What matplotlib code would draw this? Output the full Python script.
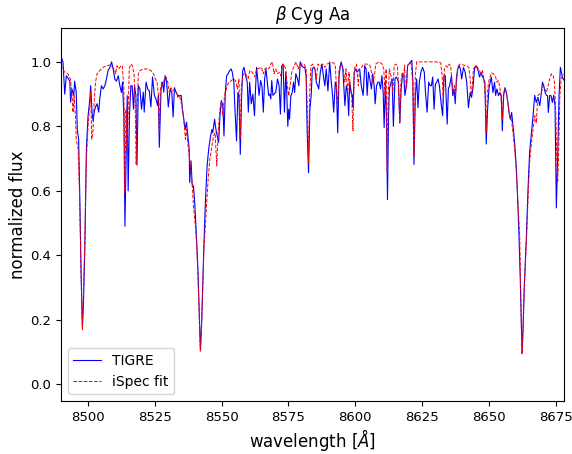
import numpy as np
import matplotlib
matplotlib.use("Agg")
import matplotlib.pyplot as plt

# TIGRE observed spectrum (wavelength in Angstrom, normalized flux)
wave_obs = [8489.5, 8490.1, 8490.75, 8491.4, 8492.0, 8492.6, 8493.3, 8493.6, 8494.1, 8494.8,
            8495.1, 8495.7, 8496.1, 8496.6, 8497.1, 8497.5, 8498.0, 8498.4, 8498.9, 8499.5,
            8500.1, 8500.8, 8501.1, 8501.6, 8502.0, 8502.4, 8502.9, 8503.5, 8504.1, 8504.5,
            8505.1, 8505.75, 8506.4, 8507.0, 8507.6, 8508.3, 8508.9, 8509.5, 8510.1, 8510.7,
            8511.4, 8512.0, 8512.6, 8513.0, 8513.5, 8513.9, 8514.4, 8514.75, 8515.1, 8515.6,
            8516.1, 8516.6, 8517.1, 8517.5, 8518.0, 8518.4, 8518.9, 8519.5, 8520.1, 8520.75,
            8521.1, 8521.8, 8522.4, 8523.0, 8523.6, 8524.2, 8524.9, 8525.5, 8526.1, 8526.4,
            8526.75, 8527.4, 8528.0, 8528.4, 8528.9, 8529.5, 8530.1, 8530.8, 8531.4, 8531.9,
            8532.4, 8533.0, 8533.6, 8534.25, 8534.9, 8535.5, 8535.9, 8536.4, 8536.9, 8537.4,
            8537.9, 8538.1, 8538.6, 8539.0, 8539.5, 8539.9, 8540.25, 8540.6, 8541.2, 8541.75,
            8542.1, 8542.6, 8543.0, 8543.4, 8544.0, 8544.6, 8545.2, 8545.9, 8546.4, 8546.7,
            8547.4, 8547.9, 8548.4, 8548.9, 8549.4, 8549.9, 8550.5, 8550.9, 8551.4, 8551.9,
            8552.4, 8553.0, 8553.6, 8554.0, 8554.6, 8555.0, 8555.6, 8556.1, 8556.5, 8557.0,
            8557.5, 8557.9, 8558.4, 8559.0, 8559.6, 8560.0, 8560.5, 8561.1, 8561.7, 8562.3,
            8562.75, 8563.1, 8563.6, 8564.0, 8564.6, 8565.1, 8565.6, 8566.1, 8566.6, 8567.1,
            8567.6, 8568.0, 8568.4, 8568.75, 8569.2, 8569.6, 8570.25, 8570.9, 8571.5, 8572.0,
            8572.5, 8573.0, 8573.5, 8574.0, 8574.4, 8574.75, 8575.1, 8575.4, 8575.9, 8576.4,
            8576.9, 8577.3, 8577.75, 8578.4, 8578.9, 8579.4, 8579.9, 8580.6, 8581.1, 8581.6,
            8582.0, 8582.5, 8583.0, 8583.5, 8583.9, 8584.4, 8584.9, 8585.4, 8585.9, 8586.3,
            8586.9, 8587.5, 8588.1, 8588.6, 8589.1, 8589.75, 8590.4, 8591.0, 8591.5, 8591.9,
            8592.5, 8592.9, 8593.4, 8593.9, 8594.4, 8594.7, 8595.3, 8595.75, 8596.1, 8596.6,
            8597.1, 8597.5, 8597.9, 8598.4, 8598.9, 8599.1, 8599.6, 8600.1, 8600.6, 8601.1,
            8601.6, 8602.2, 8602.9, 8603.5, 8604.0, 8604.4, 8604.9, 8605.4, 8606.0, 8606.5,
            8607.0, 8607.4, 8607.9, 8608.4, 8608.9, 8609.4, 8609.9, 8610.4, 8610.75, 8611.2,
            8611.6, 8612.0, 8612.4, 8612.7, 8613.3, 8613.75, 8614.2, 8614.8, 8615.25, 8615.7,
            8616.1, 8616.6, 8617.1, 8617.6, 8618.1, 8618.5, 8619.1, 8619.5, 8620.0, 8620.6,
            8621.1, 8621.5, 8621.9, 8622.4, 8622.9, 8623.4, 8623.9, 8624.5, 8625.1, 8625.75,
            8626.2, 8626.8, 8627.4, 8627.9, 8628.4, 8628.9, 8629.4, 8629.9, 8630.4, 8630.9,
            8631.4, 8632.0, 8632.6, 8633.1, 8633.6, 8634.3, 8634.75, 8635.2, 8635.9, 8636.4,
            8636.9, 8637.3, 8637.75, 8638.2, 8638.8, 8639.25, 8639.7, 8640.4, 8641.0, 8641.6,
            8642.25, 8642.9, 8643.4, 8643.9, 8644.5, 8645.1, 8645.7, 8646.4, 8646.9, 8647.4,
            8647.9, 8648.4, 8648.9, 8649.4, 8649.9, 8650.1, 8650.8, 8651.4, 8652.0, 8652.4,
            8652.9, 8653.5, 8654.0, 8654.5, 8654.9, 8655.4, 8655.9, 8656.4, 8657.0, 8657.4,
            8657.9, 8658.4, 8658.9, 8659.5, 8660.1, 8660.6, 8661.1, 8661.6, 8662.0, 8662.3,
            8662.7, 8663.1, 8663.9, 8664.5, 8665.1, 8665.8, 8666.4, 8667.0, 8667.6, 8668.2,
            8668.9, 8669.5, 8669.9, 8670.4, 8670.9, 8671.4, 8671.8, 8672.1, 8672.6, 8673.1,
            8673.6, 8674.1, 8674.6, 8675.1, 8675.6, 8676.1, 8676.6, 8677.1, 8677.6, 8678.1,
            8679.0]
flux_obs = [1.0, 1.015, 1.0, 0.90, 0.957, 0.95, 0.94, 0.875, 0.916, 0.896,
            0.94, 0.906, 0.79, 0.76, 0.55, 0.35, 0.177, 0.25, 0.417, 0.73,
            0.83, 0.885, 0.926, 0.844, 0.817, 0.844, 0.86, 0.87, 0.844, 0.885,
            0.926, 0.916, 0.926, 0.947, 0.973, 0.983, 1.0, 0.978, 0.947, 0.94,
            0.957, 0.926, 0.905, 0.937, 0.833, 0.49, 0.73, 0.895, 0.60, 0.833,
            0.926, 0.926, 0.853, 0.926, 0.895, 0.68, 0.926, 0.916, 0.853, 0.906,
            0.844, 0.937, 0.916, 0.91, 0.86, 0.953, 0.896, 0.885, 0.864, 0.895,
            0.735, 0.916, 0.937, 0.906, 0.957, 0.937, 0.86, 0.916, 0.906, 0.829,
            0.92, 0.906, 0.896, 0.895, 0.896, 0.844, 0.822, 0.79, 0.813, 0.77,
            0.73, 0.626, 0.693, 0.62, 0.615, 0.573, 0.52, 0.46, 0.35, 0.2,
            0.103, 0.2, 0.32, 0.43, 0.573, 0.677, 0.73, 0.77, 0.79, 0.78,
            0.822, 0.79, 0.77, 0.75, 0.833, 0.88, 0.864, 0.77, 0.905, 0.957,
            0.963, 0.973, 0.978, 0.968, 0.937, 0.853, 0.755, 0.906, 0.896, 0.713,
            0.896, 0.973, 0.983, 0.957, 0.937, 0.844, 0.937, 0.87, 0.90, 0.833,
            0.926, 0.983, 0.937, 0.896, 0.942, 0.926, 0.844, 0.947, 0.978, 0.937,
            0.896, 0.90, 0.885, 0.942, 0.896, 0.90, 0.906, 0.947, 0.926, 0.838,
            0.988, 0.993, 0.844, 0.968, 0.896, 0.80, 0.853, 0.822, 0.895, 0.905,
            0.937, 0.905, 0.963, 0.947, 0.926, 1.0, 0.988, 0.983, 0.983, 0.957,
            0.78, 0.656, 0.853, 0.896, 0.978, 0.983, 0.978, 0.937, 0.926, 0.916,
            0.968, 0.993, 0.953, 0.926, 0.978, 0.91, 1.0, 0.937, 0.895, 0.844,
            0.937, 0.926, 0.78, 0.957, 0.988, 1.0, 0.978, 0.916, 0.864, 0.926,
            0.905, 0.833, 0.937, 0.905, 0.895, 0.86, 0.968, 0.978, 0.968, 0.973,
            0.978, 0.926, 0.896, 0.988, 0.978, 0.896, 0.968, 0.947, 0.916, 0.963,
            0.926, 0.87, 0.926, 0.937, 0.937, 0.916, 0.957, 0.905, 0.796, 0.937,
            0.833, 0.573, 0.833, 0.916, 0.937, 0.947, 0.80, 0.947, 0.953, 0.947,
            0.937, 0.81, 0.916, 0.957, 0.957, 0.896, 0.926, 0.988, 0.993, 1.0,
            1.005, 0.937, 0.682, 0.896, 0.947, 0.858, 0.937, 0.968, 0.983, 0.968,
            0.905, 0.844, 0.937, 0.926, 0.926, 0.953, 0.853, 0.931, 0.937, 0.947,
            0.926, 0.874, 0.833, 0.957, 0.957, 0.807, 0.916, 0.926, 0.957, 0.895,
            0.916, 0.87, 0.947, 0.978, 0.988, 0.978, 0.947, 0.983, 0.968, 0.937,
            0.858, 0.905, 0.89, 0.916, 0.978, 0.988, 0.978, 0.953, 0.968, 0.957,
            0.947, 0.937, 0.745, 0.853, 0.916, 0.926, 0.953, 0.905, 0.937, 0.896,
            0.916, 0.895, 0.905, 0.896, 0.786, 0.896, 0.92, 0.905, 0.874, 0.843,
            0.822, 0.843, 0.80, 0.75, 0.677, 0.583, 0.47, 0.33, 0.2, 0.095,
            0.18, 0.3, 0.459, 0.604, 0.719, 0.78, 0.833, 0.896, 0.874, 0.89,
            0.864, 0.905, 0.937, 0.926, 0.905, 0.896, 0.895, 0.843, 0.896, 0.895,
            0.874, 0.896, 0.864, 0.547, 0.708, 0.896, 0.983, 0.963, 0.947, 0.942,
            0.95]

# iSpec synthetic fit
wave_fit = [8489.5, 8490.4, 8491.4, 8492.6, 8493.5, 8494.1, 8494.5, 8494.9, 8495.4, 8495.7,
            8496.4, 8496.9, 8497.5, 8498.0, 8498.4, 8498.9, 8499.5, 8500.1, 8500.8, 8501.1,
            8501.5, 8502.0, 8502.4, 8502.9, 8503.5, 8504.5, 8505.75, 8507.0, 8508.3, 8509.2,
            8509.9, 8510.4, 8510.9, 8511.6, 8512.4, 8512.9, 8513.5, 8513.9, 8514.3, 8514.6,
            8515.0, 8515.5, 8516.0, 8516.6, 8517.3, 8517.75, 8518.1, 8518.5, 8518.9, 8519.5,
            8520.75, 8522.4, 8523.6, 8524.6, 8525.25, 8525.9, 8526.4, 8526.75, 8527.1, 8527.6,
            8528.1, 8528.6, 8529.3, 8529.9, 8530.5, 8531.1, 8531.7, 8532.4, 8533.0, 8533.6,
            8534.25, 8534.9, 8535.5, 8536.1, 8536.5, 8537.0, 8537.6, 8538.4, 8539.0, 8539.5,
            8540.1, 8540.7, 8541.2, 8541.75, 8542.1, 8542.6, 8543.0, 8543.4, 8544.3, 8544.9,
            8545.6, 8546.4, 8547.0, 8547.6, 8548.2, 8548.8, 8549.4, 8549.9, 8550.5, 8551.1,
            8551.8, 8552.6, 8553.4, 8554.4, 8555.25, 8555.9, 8556.5, 8556.9, 8557.4, 8558.1,
            8559.0, 8559.9, 8560.6, 8561.5, 8562.4, 8563.1, 8564.0, 8564.9, 8565.6, 8566.2,
            8567.1, 8567.7, 8568.4, 8569.0, 8569.6, 8570.25, 8570.9, 8571.5, 8572.1, 8572.8,
            8573.4, 8574.0, 8574.6, 8575.1, 8575.6, 8576.25, 8577.1, 8577.9, 8578.6, 8579.25,
            8580.1, 8580.9, 8581.6, 8582.1, 8582.5, 8582.9, 8583.4, 8584.1, 8584.9, 8585.4,
            8586.0, 8586.9, 8587.8, 8588.6, 8589.4, 8590.6, 8591.9, 8592.5, 8593.1, 8593.4,
            8593.9, 8594.6, 8595.4, 8596.1, 8596.5, 8597.1, 8597.6, 8598.1, 8598.6, 8599.1,
            8599.6, 8600.4, 8601.1, 8601.6, 8602.4, 8603.1, 8604.4, 8605.4, 8606.0, 8606.5,
            8607.1, 8607.6, 8608.8, 8610.0, 8610.6, 8611.1, 8611.5, 8611.9, 8612.25, 8612.7,
            8613.4, 8614.0, 8614.5, 8615.1, 8615.7, 8616.1, 8616.6, 8617.0, 8617.5, 8618.0,
            8618.4, 8618.6, 8619.1, 8619.5, 8620.1, 8620.9, 8621.4, 8621.9, 8622.4, 8622.9,
            8625.4, 8627.9, 8630.4, 8631.9, 8632.4, 8632.9, 8633.25, 8633.9, 8634.5, 8635.1,
            8635.6, 8636.1, 8636.6, 8637.0, 8637.4, 8637.9, 8638.4, 8639.1, 8640.4, 8641.6,
            8642.4, 8642.9, 8643.3, 8643.6, 8644.1, 8644.9, 8645.6, 8646.4, 8647.0, 8647.5,
            8648.0, 8648.5, 8648.9, 8649.3, 8649.75, 8650.8, 8651.6, 8652.4, 8652.9, 8653.4,
            8653.9, 8654.4, 8654.9, 8655.3, 8655.75, 8656.4, 8657.0, 8657.6, 8658.3, 8658.9,
            8659.5, 8660.1, 8660.7, 8661.4, 8661.75, 8662.1, 8662.3, 8662.7, 8663.1, 8663.9,
            8664.5, 8665.1, 8665.8, 8666.4, 8667.0, 8667.6, 8668.2, 8668.9, 8669.5, 8670.1,
            8670.75, 8671.4, 8672.0, 8672.6, 8673.3, 8673.9, 8674.4, 8674.9, 8675.25, 8675.6,
            8676.0, 8676.4, 8676.9, 8677.4, 8678.1, 8679.0]
flux_fit = [0.98, 0.983, 0.968, 0.963, 0.947, 0.905, 0.843, 0.895, 0.833, 0.76,
            0.73, 0.6, 0.35, 0.17, 0.28, 0.44, 0.698, 0.80, 0.874, 0.905,
            0.76, 0.79, 0.874, 0.937, 0.963, 0.973, 0.983, 0.988, 0.99, 0.983,
            0.978, 0.963, 0.988, 0.978, 0.988, 0.988, 0.916, 0.595, 0.853, 0.73,
            0.81, 0.978, 0.993, 0.99, 0.963, 0.853, 0.68, 0.864, 0.963, 0.973,
            0.978, 0.978, 0.973, 0.963, 0.947, 0.937, 0.896, 0.78, 0.905, 0.937,
            0.926, 0.947, 0.953, 0.937, 0.905, 0.92, 0.91, 0.916, 0.906, 0.89,
            0.896, 0.874, 0.848, 0.80, 0.76, 0.79, 0.73, 0.677, 0.625, 0.552,
            0.50, 0.438, 0.33, 0.19, 0.105, 0.2, 0.31, 0.417, 0.542, 0.625,
            0.698, 0.74, 0.77, 0.78, 0.677, 0.79, 0.853, 0.874, 0.833, 0.896,
            0.916, 0.937, 0.94, 0.947, 0.942, 0.916, 0.947, 0.76, 0.926, 0.963,
            0.963, 0.947, 0.973, 0.968, 0.953, 0.978, 0.98, 0.983, 0.963, 0.978,
            0.983, 0.978, 0.993, 1.0, 0.963, 0.978, 0.963, 0.968, 0.957, 0.993,
            0.988, 0.978, 0.926, 0.895, 0.926, 0.968, 0.988, 1.0, 0.978, 0.993,
            0.993, 0.993, 0.978, 0.833, 0.687, 0.896, 0.988, 0.993, 0.978, 0.947,
            0.993, 0.988, 0.993, 0.983, 0.993, 0.997, 0.997, 0.988, 0.895, 0.864,
            0.978, 0.993, 0.983, 0.937, 0.978, 0.905, 0.968, 0.926, 0.896, 0.786,
            0.978, 0.993, 0.926, 0.978, 0.983, 0.993, 0.993, 0.99, 0.968, 0.937,
            0.957, 0.993, 1.0, 0.993, 0.978, 0.896, 0.978, 0.656, 0.896, 0.978,
            0.953, 0.905, 0.988, 0.993, 0.988, 0.926, 0.81, 0.937, 0.968, 0.953,
            0.99, 0.937, 0.916, 0.988, 0.997, 0.993, 0.937, 0.708, 0.957, 1.0,
            1.0, 1.0, 1.0, 0.997, 0.957, 0.874, 0.978, 0.988, 0.983, 0.993,
            0.988, 0.937, 0.905, 0.926, 0.895, 0.947, 0.988, 0.993, 0.99, 0.988,
            0.983, 0.947, 0.896, 0.916, 0.978, 0.988, 0.983, 0.973, 0.957, 0.973,
            0.947, 0.896, 0.78, 0.896, 0.937, 0.966, 0.963, 0.953, 0.937, 0.942,
            0.926, 0.895, 0.822, 0.896, 0.916, 0.905, 0.874, 0.833, 0.822, 0.78,
            0.73, 0.667, 0.573, 0.459, 0.3, 0.14, 0.093, 0.19, 0.3, 0.438,
            0.573, 0.687, 0.75, 0.79, 0.833, 0.81, 0.896, 0.90, 0.905, 0.926,
            0.916, 0.905, 0.926, 0.947, 0.963, 0.957, 0.937, 0.833, 0.698, 0.625,
            0.73, 0.896, 0.947, 0.957, 0.963, 0.965]

fig = plt.figure(figsize=(5.72, 4.54), dpi=100)
ax = fig.add_axes([0.1066, 0.1167, 0.8787, 0.8216])

ax.plot(wave_obs, flux_obs, color='blue', lw=0.8, label='TIGRE')
ax.plot(wave_fit, flux_fit, color='red', lw=0.7, ls='--', label='iSpec fit')

ax.set_xlim(8490, 8677.8)
ax.set_ylim(-0.052, 1.105)
ax.set_xticks([8500, 8525, 8550, 8575, 8600, 8625, 8650, 8675])
ax.set_yticks([0.0, 0.2, 0.4, 0.6, 0.8, 1.0])
ax.tick_params(axis='both', which='major', labelsize=9.5)

ax.set_title(r'$\beta$ Cyg Aa', fontsize=12)
ax.set_xlabel(r'wavelength [$\AA$]', fontsize=12, labelpad=2)
ax.set_ylabel('normalized flux', fontsize=12, labelpad=2)
ax.legend(loc='lower left', fontsize=10)

plt.savefig('out.png', dpi=100)
